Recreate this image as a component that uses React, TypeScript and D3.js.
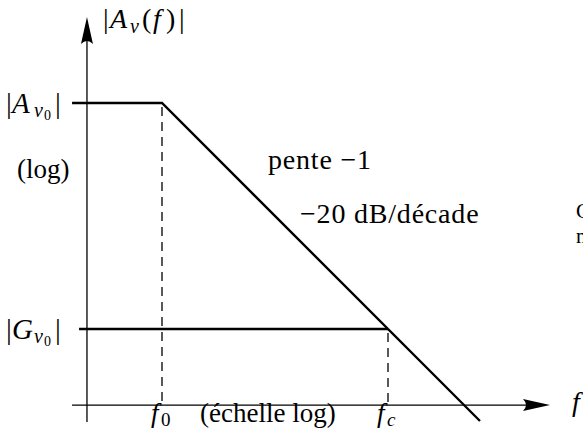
import React from "react";
import * as d3 from "d3";

// Asymptotic Bode magnitude plot of a first-order low-pass amplifier
const W = 583;
const H = 434;

// corner frequencies (arbitrary units, log scale): f0 then fc
const cornerFreqs = [10, 1000];
const cornerLabels = ["f", "f"];
const cornerSubs = ["0", "c"];
// gain levels: open-loop |Av0| and closed-loop |Gv0|
const gainLevels = [1000, 10];
const gainNames = ["A", "G"];
const gainSubs = ["v", "v"];
// frequency range of the drawn asymptotes
const freqRange = [10 ** 0.204, 10 ** 3.814];
const closedLoopStart = 10 ** 0.266;

const FONT = "'Liberation Serif', 'Times New Roman', serif";

export default function App() {
  const [f0, fc] = cornerFreqs;
  const [Av0, Gv0] = gainLevels;

  // equal pixel size per decade on both axes gives a 45° slope of -1
  const x = d3.scaleLog().domain([10, 1000]).range([162, 388]);
  const y = d3.scaleLog().domain([1000, 10]).range([103, 329]);

  const axisY = y(10 ** 0.327);
  const axisX = x(10 ** 0.336);
  const xAxisStart = x(freqRange[0]);
  const xAxisEnd = 550;
  const yAxisTop = 17;
  const yAxisBottom = 422;

  const gain = (f: number) => (f <= f0 ? Av0 : (Av0 * f0) / f);
  const openLoop: [number, number][] = [
    [freqRange[0], gain(freqRange[0])],
    [f0, gain(f0)],
    [freqRange[1], gain(freqRange[1])],
  ];
  const line = d3
    .line<[number, number]>()
    .x((d) => x(d[0]))
    .y((d) => y(d[1]));

  const closedLoop: [number, number][] = [
    [closedLoopStart, Gv0],
    [fc, Gv0],
  ];

  const txt = { fontFamily: FONT, fontSize: 26, fill: "#000" } as const;

  // LaTeX-style arrow heads
  const arrowUp = (cx: number, ty: number) =>
    `M${cx},${ty} L${cx - 6},${ty + 27} Q${cx},${ty + 21} ${cx + 6},${ty + 27} Z`;
  const arrowRight = (tx: number, cy: number) =>
    `M${tx},${cy} L${tx - 27},${cy - 6} Q${tx - 21},${cy} ${tx - 27},${cy + 6} Z`;

  return (
    <svg
      width={W}
      height={H}
      viewBox={`0 0 ${W} ${H}`}
      style={{ position: "absolute", left: 0, top: 0, background: "#fff" }}
    >
      {/* axes */}
      <line x1={axisX} y1={yAxisBottom} x2={axisX} y2={yAxisTop + 10} stroke="#000" strokeWidth={1.3} />
      <path d={arrowUp(axisX, yAxisTop)} fill="#000" />
      <line x1={xAxisStart} y1={axisY} x2={xAxisEnd - 10} y2={axisY} stroke="#000" strokeWidth={1.3} />
      <path d={arrowRight(xAxisEnd, axisY)} fill="#000" />

      {/* dashed markers at the corner frequencies */}
      {cornerFreqs.map((f, i) => (
        <line
          key={i}
          x1={x(f)}
          x2={x(f)}
          y1={y(i === 0 ? Av0 : Gv0) + 4}
          y2={axisY}
          stroke="#000"
          strokeWidth={1.3}
          strokeDasharray="9 6"
        />
      ))}

      {/* asymptotes */}
      <path d={line(openLoop) ?? ""} fill="none" stroke="#000" strokeWidth={2.4} />
      <path d={line(closedLoop) ?? ""} fill="none" stroke="#000" strokeWidth={2.4} />

      {/* y axis title |Av(f)| */}
      <text y={28} {...txt} fontSize={28}>
        <tspan x={103}>|</tspan>
        <tspan x={110} fontStyle="italic">A</tspan>
        <tspan x={130} fontStyle="italic" fontSize={20} dy={5}>v</tspan>
        <tspan x={142} dy={-5}>(</tspan>
        <tspan x={153} fontStyle="italic">f</tspan>
        <tspan x={166}>)</tspan>
        <tspan x={179}>|</tspan>
      </text>

      {/* gain level labels |Av0|, |Gv0| */}
      {gainLevels.map((g, i) => (
        <text key={i} y={y(g) + 10} {...txt} fontSize={29}>
          <tspan x={6}>|</tspan>
          <tspan x={12} fontStyle="italic">{gainNames[i]}</tspan>
          <tspan x={34} fontStyle="italic" fontSize={20} dy={4}>{gainSubs[i]}</tspan>
          <tspan x={44} fontSize={14} dy={3}>0</tspan>
          <tspan x={55} dy={-7}>|</tspan>
        </text>
      ))}
      <text x={17} y={178} {...txt} fontSize={27}>(log)</text>

      {/* frequency labels */}
      {cornerFreqs.map((f, i) => (
        <text key={i} y={422} {...txt} fontSize={27}>
          <tspan x={x(f) - 11} fontStyle="italic">{cornerLabels[i]}</tspan>
          <tspan x={x(f) - 1} fontStyle={i === 1 ? "italic" : "normal"} fontSize={19} dy={4}>{cornerSubs[i]}</tspan>
        </text>
      ))}
      <text x={200} y={422} {...txt} fontSize={27}>(échelle log)</text>

      {/* slope annotation */}
      <text x={268} y={169} {...txt} fontSize={28} letterSpacing={0.8}>pente −1</text>
      <text x={300} y={223} {...txt} fontSize={28} letterSpacing={0.8}>−20 dB/décade</text>

      {/* frequency axis title */}
      <text x={572} y={411} {...txt} fontSize={28} fontStyle="italic">f</text>

      {/* side note, cut by the frame */}
      <text x={576} y={218} {...txt} fontSize={21}>C</text>
      <text x={576} y={243} {...txt} fontSize={21}>n</text>
    </svg>
  );
}
